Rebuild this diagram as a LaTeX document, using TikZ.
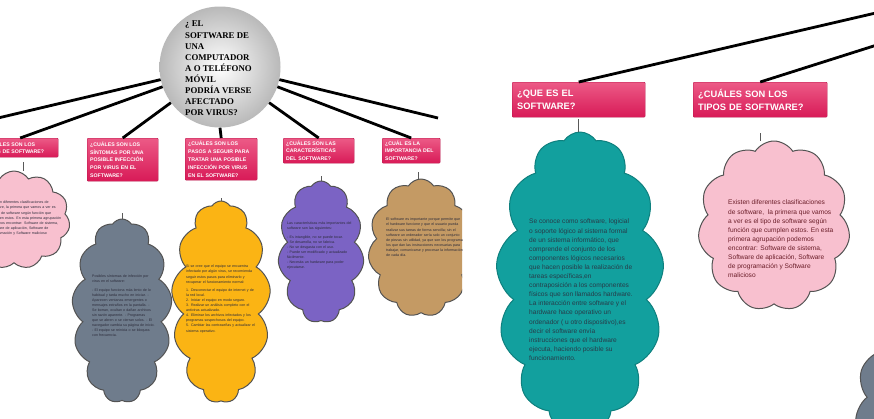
\documentclass[tikz,border=0pt]{standalone}
\usepackage{fontspec}
\setmainfont{Liberation Sans}
\newfontfamily\circfont{Liberation Serif}
\usetikzlibrary{positioning, shapes.symbols}
\definecolor{hdrtop}{HTML}{EC5A86}
\definecolor{hdrbot}{HTML}{D81A57}
\definecolor{hdrline}{HTML}{B8174C}
\definecolor{teal}{HTML}{12A09E}
\definecolor{rosa}{HTML}{F8C0CF}
\definecolor{slate}{HTML}{6F7C8C}
\definecolor{gold}{HTML}{FBB414}
\definecolor{violet}{HTML}{7B63C4}
\definecolor{tan}{HTML}{C49A64}
\definecolor{inktext}{HTML}{2B2B3A}
\hyphenpenalty=10000
\exhyphenpenalty=10000

\begin{document}
\begin{tikzpicture}[x=1pt, y=-1pt,
  branch/.style={black, line width=2.8pt},
  tick/.style={gray!70!black, line width=0.8pt},
  hdr/.style={draw=hdrline, line width=0.4pt, top color=hdrtop, bottom color=hdrbot,
    rounded corners=1pt, anchor=north west, text=white, align=left, inner xsep=3pt,
    inner ysep=0pt},
  smallhdr/.style={hdr, font=\fontsize{5.2}{7.8}\selectfont\bfseries},
  bighdr/.style={hdr, font=\fontsize{9.3}{13}\selectfont\bfseries, inner xsep=5pt},
  puff/.style={cloud, cloud puffs=#1, cloud puff arc=115, cloud ignores aspect,
    draw=gray!65!black, line width=1pt, inner sep=0pt},
  blurb/.style={text=inktext, align=left, anchor=north west, inner sep=0pt,
    font=\fontsize{3.6}{5.1}\selectfont},
  bigblurb/.style={text=inktext!85!teal, align=left, anchor=north west, inner sep=0pt,
    font=\fontsize{6.6}{9.1}\selectfont}]

% Background
\fill[white] (0,0) rectangle (874,418);

% ---------- left photo: the whole map ----------
\begin{scope}
\clip (0,0) rectangle (462,418);

% Centre question
\node[circle, minimum size=121, inner sep=0pt, inner color=white, outer color=gray!55]
  (quest) at (220,67) {};
\node[text=black, align=left, anchor=north west, inner sep=0pt,
      font=\circfont\fontsize{8.8}{11.1}\selectfont\bfseries] (questtxt) at (185,21)
  {¿ EL\\SOFTWARE DE\\UNA\\COMPUTADOR\\A O TELÉFONO\\MÓVIL\\PODRÍA VERSE\\AFECTADO\\POR VIRUS?};

% Headers
\node[smallhdr, text width=70, minimum height=19] (htipos) at (-18,138)
  {¿CUÁLES SON LOS\\TIPOS DE SOFTWARE?};
\node[smallhdr, text width=65, minimum height=43] (hsint) at (87,138)
  {¿CUÁLES SON LOS\\SÍNTOMAS POR UNA\\POSIBLE INFECCIÓN\\POR VIRUS EN EL\\SOFTWARE?};
\node[smallhdr, text width=66, minimum height=42] (hpasos) at (185,138)
  {¿CUÁLES SON LOS\\PASOS A SEGUIR PARA\\TRATAR UNA POSIBLE\\INFECCIÓN POR VIRUS\\EN EL SOFTWARE?};
\node[smallhdr, text width=65, minimum height=25] (hcarac) at (283,138)
  {¿CUÁLES SON LAS\\CARACTERÍSTICAS\\DEL SOFTWARE?};
\node[smallhdr, text width=52, minimum height=25] (himport) at (382,138)
  {¿CUÁL ES LA\\IMPORTANCIA DEL\\SOFTWARE?};

% Branches
\coordinate (lfar) at (-2,118);
\coordinate (rfar) at (438,118);
\draw[branch] (quest.192) -- (lfar);
\draw[branch] (quest.199) -- (htipos.north);
\draw[branch] (quest.216) -- (hsint.north);
\draw[branch] (quest.south) -- (hpasos.north);
\draw[branch] (quest.324) -- (hcarac.north);
\draw[branch] (quest.341) -- (himport.north);
\draw[branch] (quest.348) -- (rfar);

% Clouds
\node[puff=11, fill=rosa, minimum width=112, minimum height=98] (ctipos) at (14,220) {};
\node[puff=13, fill=slate, minimum width=100, minimum height=184] (csint) at (122,311) {};
\node[puff=13, fill=gold, minimum width=99, minimum height=202] (cpasos) at (221,302) {};
\node[puff=11, fill=violet, minimum width=86, minimum height=142] (ccarac) at (321,252) {};
\node[puff=11, fill=tan, minimum width=106, minimum height=138] (cimport) at (421,248) {};

% Ticks
\coordinate (ktipos) at (23,162);
\coordinate (ksint) at (122,213);
\coordinate (kpasos) at (221,198);
\coordinate (kcarac) at (321,176);
\coordinate (kimport) at (418,172);
\draw[tick] (ktipos) -- (ktipos |- ctipos.north);
\draw[tick] (ksint) -- (ksint |- csint.north);
\draw[tick] (kpasos) -- (kpasos |- cpasos.north);
\draw[tick] (kcarac) -- (kcarac |- ccarac.north);
\draw[tick] (kimport) -- (kimport |- cimport.north);

% Cloud texts
\node[blurb, text width=72] (ttipos) at (-10,201)
  {Existen diferentes clasificaciones de software, la primera que vamos a ver es el
   tipo de software según función que cumplen estos. En esta primera agrupación podemos
   encontrar: Software de sistema, Software de aplicación, Software de programación y
   Software malicioso};
\node[blurb, text width=64] (tsint) at (92,275)
  {Posibles síntomas de infección por virus en el software:\\[3pt]
   - El equipo funciona más lento de lo habitual y tarda mucho en iniciar.
   - Aparecen ventanas emergentes o mensajes extraños en la pantalla.
   - Se borran, ocultan o dañan archivos sin razón aparente.
   - Programas que se abren o se cierran solos.
   - El navegador cambia su página de inicio.
   - El equipo se reinicia o se bloquea con frecuencia.};
\node[blurb, text width=70] (tpasos) at (186,265)
  {Si se cree que el equipo se encuentra infectado por algún virus, se recomienda
   seguir estos pasos para eliminarlo y recuperar el funcionamiento normal:\\[3pt]
   1. Desconectar el equipo de internet y de la red local.\\
   2. Iniciar el equipo en modo seguro.\\
   3. Realizar un análisis completo con el antivirus actualizado.\\
   4. Eliminar los archivos infectados y los programas sospechosos del equipo.\\
   5. Cambiar las contraseñas y actualizar el sistema operativo.};
\node[blurb, text width=68] (tcarac) at (287,222)
  {Las características más importantes del software son las siguientes:\\[3pt]
   - Es intangible, no se puede tocar.\\
   - Se desarrolla, no se fabrica.\\
   - No se desgasta con el uso.\\
   - Puede ser modificado y actualizado fácilmente.\\
   - Necesita un hardware para poder ejecutarse.};
\node[blurb, text width=80] (timport) at (386,218)
  {El software es importante porque permite que el hardware funcione y que el usuario
   pueda realizar sus tareas de forma sencilla; sin el software un ordenador sería solo
   un conjunto de piezas sin utilidad, ya que son los programas los que dan las
   instrucciones necesarias para trabajar, comunicarse y procesar la información de
   cada día.};
\end{scope}

% ---------- right photo: two branches up close ----------
\begin{scope}
\clip (472,0) rectangle (874,418);

% Headers
\node[bighdr, minimum width=133, minimum height=35, text width=123] (hque) at (512,82)
  {¿QUE ES EL\\SOFTWARE?};
\node[bighdr, minimum width=134, minimum height=35, text width=124] (htipos2) at (693,82)
  {¿CUÁLES SON LOS\\TIPOS DE SOFTWARE?};

% Branches from the centre, out of frame
\coordinate (far1) at (880,12);
\coordinate (far2) at (880,44);
\draw[branch] (far1) -- (hque.north);
\draw[branch] (far2) -- (htipos2.north);

% Clouds
\node[puff=13, fill=teal, draw=teal!80!black, minimum width=168, minimum height=300]
  (cque) at (580,282) {};
\node[puff=11, fill=rosa, minimum width=152, minimum height=170] (ctipos2) at (774,226) {};
\node[puff=11, fill=slate, minimum width=140, minimum height=190] (cnext) at (925,410) {};

% Ticks
\coordinate (kque) at (578,119);
\coordinate (ktipos2) at (760,133);
\draw[tick] (kque) -- (kque |- cque.north);
\draw[tick] (ktipos2) -- (ktipos2 |- ctipos2.north);

% Cloud texts
\node[bigblurb] (tque) at (529,219)
  {Se conoce como software, logicial\\o soporte lógico al sistema formal\\
   de un sistema informático, que\\comprende el conjunto de los\\
   componentes lógicos necesarios\\que hacen posible la realización de\\
   tareas específicas,en\\contraposición a los componentes\\
   físicos que son llamados hardware.\\La interacción entre software y el\\
   hardware hace operativo un\\ordenador ( u otro dispositivo),es\\
   decir el software envía\\instrucciones que el hardware\\
   ejecuta, haciendo posible su\\funcionamiento.};
\node[bigblurb, text=inktext!70!red] (ttipos2) at (728,200)
  {Existen diferentes clasificaciones\\de software,\ \ la primera que vamos\\
   a ver es el tipo de software según\\función que cumplen estos. En esta\\
   primera agrupación podemos\\encontrar: Software de sistema,\\
   Software de aplicación, Software\\de programación y Software\\malicioso};
\end{scope}

\end{tikzpicture}
\end{document}
